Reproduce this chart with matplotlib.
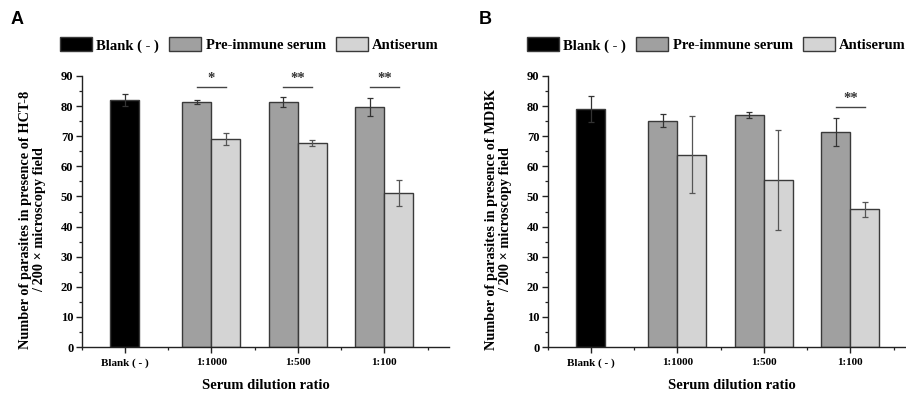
import matplotlib
matplotlib.use("Agg")
import matplotlib.pyplot as plt
import numpy as np

categories = ["Blank ( - )", "1:1000", "1:500", "1:100"]
series_names = ["Blank ( - )", "Pre-immune serum", "Antiserum"]

# Panel A (HCT-8)
a_blank = 82.0
a_blank_err = 1.9
a_pre = [81.3, 81.3, 79.7]
a_pre_err = [0.6, 1.6, 2.9]
a_anti = [69.0, 67.6, 51.1]
a_anti_err = [2.0, 1.0, 4.4]
a_sig = ["*", "**", "**"]
a_sig_y = 86.4

# Panel B (MDBK)
b_blank = 79.1
b_blank_err = 4.4
b_pre = [75.2, 77.2, 71.4]
b_pre_err = [2.3, 1.0, 4.5]
b_anti = [63.9, 55.5, 45.7]
b_anti_err = [12.9, 16.5, 2.6]
b_sig = ["", "", "**"]
b_sig_y = 79.8

ylabels = ["Number of parasites in presence of HCT-8\n/ 200 \u00d7 microscopy field",
           "Number of parasites in presence of MDBK\n/ 200 \u00d7 microscopy field"]
xlabel = "Serum dilution ratio"
panel_letters = ["A", "B"]

c_blank = "#000000"
c_pre = "#a0a0a0"
c_anti = "#d4d4d4"
edge = "#3a3a3a"

serif = ["Liberation Serif", "DejaVu Serif"]
plt.rcParams["font.family"] = serif
plt.rcParams["font.weight"] = "bold"

fig = plt.figure(figsize=(9.06, 3.93), dpi=100)

W = 906.0
H = 393.0
ax_w = 367.6 / W
ax_h = 271.0 / H
ax_b = (H - 347.0) / H
lefts_px = [81.7, 547.7]
legend_left_px = [60.0, 527.0]
letter_x_px = [17.0, 485.0]

data = [
    (a_blank, a_blank_err, a_pre, a_pre_err, a_anti, a_anti_err, a_sig, a_sig_y),
    (b_blank, b_blank_err, b_pre, b_pre_err, b_anti, b_anti_err, b_sig, b_sig_y),
]

bw = 0.335
for i, (blank, blank_err, pre, pre_err, anti, anti_err, sig, sig_y) in enumerate(data):
    ax = fig.add_axes([lefts_px[i] / W, ax_b, ax_w, ax_h])
    x = np.arange(len(categories))
    xs = x[1:]
    ekw = dict(elinewidth=0.9, capthick=0.9)
    h0 = ax.bar([x[0]], [blank], width=bw, color=c_blank, edgecolor=edge, linewidth=1.0,
                yerr=[blank_err], capsize=2.5, ecolor="#333333", error_kw=ekw, label=series_names[0])
    h1 = ax.bar(xs - bw / 2, pre, width=bw, color=c_pre, edgecolor=edge, linewidth=1.0,
                yerr=pre_err, capsize=2.5, ecolor="#333333", error_kw=ekw, label=series_names[1])
    h2 = ax.bar(xs + bw / 2, anti, width=bw, color=c_anti, edgecolor=edge, linewidth=1.0,
                yerr=anti_err, capsize=2.5, ecolor="#555555", error_kw=ekw, label=series_names[2])
    for j, s in enumerate(sig):
        if s:
            ax.plot([xs[j] - bw / 2, xs[j] + bw / 2], [sig_y, sig_y], color="#444444", lw=1.0)
            ax.text(xs[j], sig_y + 0.6, s, ha="center", va="bottom", fontsize=10.5,
                    color="#333333", fontweight="bold")
    ax.set_xlim(-0.5, 3.75)
    ax.set_ylim(0, 90)
    ax.set_yticks(np.arange(0, 91, 10))
    ax.set_yticks(np.arange(5, 90, 10), minor=True)
    ax.set_xticks(x)
    ax.set_xticklabels(categories)
    ax.set_xticks([-0.5, 0.5, 1.5, 2.5, 3.5], minor=True)
    for sp in ["top", "right"]:
        ax.spines[sp].set_visible(False)
    for sp in ["left", "bottom"]:
        ax.spines[sp].set_linewidth(1.0)
        ax.spines[sp].set_color("#222222")
    ax.tick_params(axis="both", which="major", direction="out", length=4, width=1.0,
                   colors="#222222", labelcolor="black", pad=2)
    ax.tick_params(axis="y", which="major", labelsize=9)
    ax.tick_params(axis="x", which="major", labelsize=8, pad=4)
    ax.tick_params(axis="both", which="minor", direction="out", length=2.5, width=0.9,
                   colors="#222222")
    for lab in ax.get_xticklabels() + ax.get_yticklabels():
        lab.set_fontweight("bold")
    ax.set_xlabel(xlabel, fontsize=10.5, fontweight="bold", labelpad=8)
    ax.set_ylabel(ylabels[i], fontsize=10.3, fontweight="bold", linespacing=1.05)
    ax.yaxis.set_label_coords(-0.098, 0.47)
    ax.legend(handles=[h0, h1, h2], labels=series_names, ncol=3, frameon=False,
              loc="center left",
              bbox_to_anchor=((legend_left_px[i] - lefts_px[i]) / 367.6, (347 - 45) / 271.0),
              handlelength=2.2, handleheight=1.1, handletextpad=0.3,
              columnspacing=0.68, borderaxespad=0, borderpad=0,
              prop={"family": serif, "weight": "bold", "size": 10.5})
    fig.text(letter_x_px[i] / W, 1 - 19 / H, panel_letters[i], ha="center", va="center",
             fontsize=13, fontweight="bold", family=["Liberation Sans", "DejaVu Sans"])

fig.savefig("out.png", dpi=100)
